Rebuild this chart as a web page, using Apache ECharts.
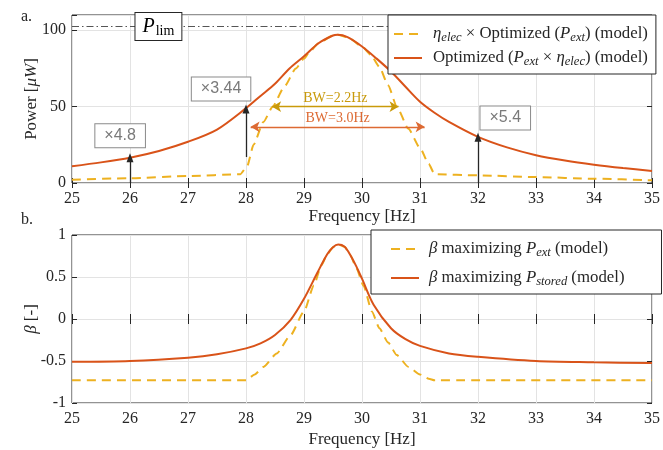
<!DOCTYPE html>
<html><head><meta charset="utf-8">
<script src="https://cdn.jsdelivr.net/npm/echarts@6/dist/echarts.min.js"></script>
<style>html,body{margin:0;padding:0;background:#fff}#c{width:663px;height:450px}</style>
</head><body><div id="c"></div>
<script>
const FONT = "'Liberation Serif', 'DejaVu Serif', serif";
const SANS = "'Liberation Sans', Arial, sans-serif";
const INK = '#262626';
const YELLOW = '#EDB120';
const ORANGE = '#D95319';

// ---------- Panel a : power ----------
const dashPFreq  = [25, 26, 27, 27.9, 28.02, 28.13, 28.3, 28.46, 28.66, 28.86, 29.0, 29.1, 29.25, 29.5, 29.58, 29.75, 30, 30.15, 30.3, 30.45, 30.6, 30.8, 31, 31.15, 31.25, 32, 33, 34, 35];
const dashPower  = [2.2, 3.1, 4.6, 5.7, 11, 25, 40, 50, 63, 75, 81.5, 86, 91.5, 96.6, 97, 95.5, 89.4, 84, 76, 64, 50, 35.5, 23, 12.5, 5.8, 5.0, 3.9, 2.8, 1.75];
const solidPFreq = [25, 25.5, 26, 26.5, 27, 27.5, 28, 28.25, 28.5, 28.75, 29, 29.25, 29.5, 29.58, 29.75, 30, 30.25, 30.5, 30.75, 31, 31.25, 31.5, 32, 32.5, 33, 33.5, 34, 34.5, 35];
const solidPower = [11, 13.5, 16.6, 21, 27, 35, 49, 57, 65, 75, 83, 91.5, 96.6, 97, 95.5, 89.4, 81.5, 73, 63, 53.2, 46, 40, 30.2, 23.3, 18.2, 14.7, 12, 9.8, 7.9];
const pLim = 102.5;
// gain arrows: [freq, from, to]
const gainArrows = [[26, 0, 16.6], [28, 17, 48.5], [32, 0, 30]];
// gain labels: [text, freq, power]
const gainLabels = [['×4.8', 25.83, 31], ['×3.44', 27.57, 61.5], ['×5.4', 32.47, 42.5]];
// bandwidth arrows: [text, fromFreq, toFreq, power, color]
const bwArrows = [['BW=2.2Hz', 28.45, 30.63, 50, '#C99A0A'], ['BW=3.0Hz', 28.08, 31.08, 36.8, '#DD6A33']];
const pLimLabel = [26.49, 102.5];

// ---------- Panel b : beta ----------
const dashBFreq  = [25, 28, 28.15, 28.3, 28.53, 28.77, 29, 29.17, 29.3, 29.4, 29.5, 29.59, 29.7, 29.8, 29.9, 30.03, 30.17, 30.3, 30.45, 30.6, 30.8, 31, 31.15, 31.25, 35];
const dashBeta   = [-0.73, -0.73, -0.66, -0.57, -0.41, -0.19, 0.09, 0.40, 0.64, 0.77, 0.855, 0.886, 0.86, 0.76, 0.61, 0.39, 0.09, -0.11, -0.28, -0.43, -0.57, -0.66, -0.71, -0.73, -0.73];
const solidBFreq = [25, 26, 27, 27.5, 28, 28.25, 28.5, 28.77, 29, 29.23, 29.4, 29.5, 29.59, 29.7, 29.8, 29.9, 30, 30.2, 30.5, 30.75, 31, 31.5, 32, 33, 34, 35];
const solidBeta  = [-0.51, -0.50, -0.46, -0.42, -0.35, -0.29, -0.19, -0.01, 0.24, 0.55, 0.77, 0.855, 0.886, 0.86, 0.76, 0.63, 0.48, 0.17, -0.11, -0.24, -0.32, -0.41, -0.45, -0.50, -0.515, -0.525];

const N1 = 'eta_elec x Optimized (P_ext) (model)';
const N2 = 'Optimized (P_ext x eta_elec) (model)';
const N3 = 'beta maximizing P_ext (model)';
const N4 = 'beta maximizing P_stored (model)';
const legendText = {
  [N1]: '{it|η}{sb|elec}{t| × Optimized (}{it|P}{sb|ext}{t|) (model)}',
  [N2]: '{t|Optimized (}{it|P}{sb|ext}{t| × }{it|η}{sb|elec}{t|) (model)}',
  [N3]: '{it|β}{t| maximizing }{it|P}{sb|ext}{t| (model)}',
  [N4]: '{it|β}{t| maximizing }{it|P}{sb|stored}{t| (model)}'
};

const zip = (a, b) => a.map((v, i) => [v, b[i]]);

const richBase = {
  t:  { fontFamily: FONT, fontSize: 16.8, color: INK, lineHeight: 20 },
  it: { fontFamily: FONT, fontStyle: 'italic', fontSize: 16.8, color: INK, lineHeight: 20 },
  sb: { fontFamily: FONT, fontStyle: 'italic', fontSize: 12.6, color: INK, lineHeight: 13, padding: [7, 0, 0, 0] }
};

function xAx(grid, pos, showLabel, gap) {
  return {
    type: 'value', gridIndex: grid, position: pos, min: 25, max: 35, interval: 1,
    axisLine: { show: false },
    axisTick: { show: true, inside: true, length: 5, lineStyle: { color: INK } },
    axisLabel: { show: showLabel, fontFamily: FONT, fontSize: 16, color: INK, margin: 8 },
    splitLine: { show: showLabel, lineStyle: { color: '#e3e3e3', width: 1 } },
    name: showLabel ? 'Frequency [Hz]' : '', nameLocation: 'middle', nameGap: gap, nameMoveOverlap: false,
    nameTextStyle: { fontFamily: FONT, fontSize: 17, color: INK }
  };
}
function yAx(grid, pos, showLabel, min, max, interval, name, fmt) {
  return {
    type: 'value', gridIndex: grid, position: pos, min, max, interval,
    axisLine: { show: false },
    axisTick: { show: true, inside: true, length: 5, lineStyle: { color: INK } },
    axisLabel: { show: showLabel, fontFamily: FONT, fontSize: 16, color: INK, margin: 6, formatter: fmt },
    splitLine: { show: showLabel, lineStyle: { color: '#e3e3e3', width: 1 } },
    name: showLabel ? name : '', nameLocation: 'middle', nameGap: 32, nameMoveOverlap: false,
    nameTextStyle: { fontFamily: FONT, fontSize: 17, color: INK, rich: {
      it: { fontFamily: FONT, fontStyle: 'italic', fontSize: 17, color: INK } } }
  };
}

const powerFmt = v => (Math.abs(v % 50) < 1e-6 ? String(v) : '');
const betaFmt = v => String(v);

const arrowLines = gainArrows.map(a => [
  { coord: [a[0], a[1]], symbol: 'none' },
  { coord: [a[0], a[2]], symbol: 'triangle', symbolSize: [7, 9] }
]);
const bwLines = bwArrows.map(b => [
  { coord: [b[1], b[3]], symbol: 'arrow', symbolSize: [8, 9],
    lineStyle: { color: b[4], width: 1.3, type: 'solid' },
    label: { show: true, formatter: b[0], position: 'insideMiddleTop', distance: 1,
      fontFamily: FONT, fontSize: 14, color: b[4] } },
  { coord: [b[2], b[3]], symbol: 'arrow', symbolSize: [8, 9] }
]);

const legendCommon = {
  orient: 'vertical', itemWidth: 28, itemHeight: 12, z: 20,
  borderColor: INK, borderWidth: 1, backgroundColor: '#fff',
  itemStyle: { opacity: 0, borderWidth: 0 },
  formatter: n => legendText[n]
};

const option = {
  animation: false,
  backgroundColor: '#fff',
  grid: [
    { left: 72, right: 11, top: 15, height: 168, show: true, borderColor: INK, borderWidth: 1 },
    { left: 72, right: 11, top: 235, height: 168, show: true, borderColor: INK, borderWidth: 1 }
  ],
  xAxis: [xAx(0, 'bottom', true, 25), xAx(0, 'top', false, 0), xAx(1, 'bottom', true, 28), xAx(1, 'top', false, 0)],
  yAxis: [
    yAx(0, 'left', true, 0, 110, 50, 'Power [{it|μW}]', powerFmt),
    yAx(0, 'right', false, 0, 110, 50, '', powerFmt),
    yAx(1, 'left', true, -1, 1, 0.5, '{it|β} [-]', betaFmt),
    yAx(1, 'right', false, -1, 1, 0.5, '', betaFmt)
  ],
  legend: [
    Object.assign({}, legendCommon, { data: [N1, N2], left: 388, top: 15, itemGap: 4,
      padding: [9, 8, 6, 5],
      textStyle: { fontFamily: FONT, fontSize: 16.8, color: INK, padding: [0, 0, 0, 6], rich: richBase } }),
    Object.assign({}, legendCommon, { data: [N3, N4], left: 371, top: 230, itemGap: 9,
      padding: [9, 37, 6, 19],
      textStyle: { fontFamily: FONT, fontSize: 16.8, color: INK, padding: [0, 0, 0, 5], rich: richBase } })
  ],
  graphic: [
    { type: 'text', left: 21, top: 9, style: { text: 'a.', font: '16px ' + FONT, fill: INK } },
    { type: 'text', left: 21, top: 212, style: { text: 'b.', font: '16px ' + FONT, fill: INK } }
  ],
  series: [
    { name: N1, type: 'line', xAxisIndex: 0, yAxisIndex: 0, data: zip(dashPFreq, dashPower),
      symbol: 'none', smooth: 0.2, smoothMonotone: 'x', z: 3,
      itemStyle: { color: YELLOW }, lineStyle: { color: YELLOW, width: 2, type: [9, 6] } },
    { name: N2, type: 'line', xAxisIndex: 0, yAxisIndex: 0, data: zip(solidPFreq, solidPower),
      symbol: 'none', smooth: 0.3, z: 4,
      itemStyle: { color: ORANGE }, lineStyle: { color: ORANGE, width: 2 },
      markLine: {
        silent: true, animation: false, symbol: 'none',
        label: { show: false },
        lineStyle: { color: INK, width: 1.3, type: 'solid' },
        data: [
          { yAxis: pLim, symbol: 'none', lineStyle: { color: '#555', width: 1, type: [7, 3, 1.5, 3] }, label: { show: false } },
          ...arrowLines,
          ...bwLines
        ]
      },
      markPoint: {
        silent: true, animation: false, symbol: 'rect', symbolSize: 0,
        data: [
          ...gainLabels.map(g => ({
            coord: [g[1], g[2]], symbolSize: 0,
            label: { show: true, position: 'inside', formatter: g[0], fontFamily: SANS, fontSize: 16, color: '#7a7a7a',
              backgroundColor: '#fff', borderColor: '#8a8a8a', borderWidth: 1, padding: [4, 9, 3, 9] }
          })),
          { coord: pLimLabel, symbolSize: 0,
            label: { show: true, position: 'inside', formatter: '{p|P}{l|lim}', backgroundColor: '#fff',
              borderColor: INK, borderWidth: 1, padding: [3, 7, 2, 7],
              rich: { p: { fontFamily: FONT, fontStyle: 'italic', fontSize: 20, color: '#000' },
                      l: { fontFamily: FONT, fontSize: 14, color: '#000', padding: [8, 0, 0, 1] } } } }
        ]
      } },
    { name: N3, type: 'line', xAxisIndex: 2, yAxisIndex: 2, data: zip(dashBFreq, dashBeta),
      symbol: 'none', smooth: 0.2, smoothMonotone: 'x', z: 3,
      itemStyle: { color: YELLOW }, lineStyle: { color: YELLOW, width: 2, type: [9, 6] } },
    { name: N4, type: 'line', xAxisIndex: 2, yAxisIndex: 2, data: zip(solidBFreq, solidBeta),
      symbol: 'none', smooth: 0.3, z: 4,
      itemStyle: { color: ORANGE }, lineStyle: { color: ORANGE, width: 2 } }
  ]
};

const chart = echarts.init(document.getElementById('c'), null, { renderer: 'canvas' });
chart.setOption(option);
</script>
</body></html>
